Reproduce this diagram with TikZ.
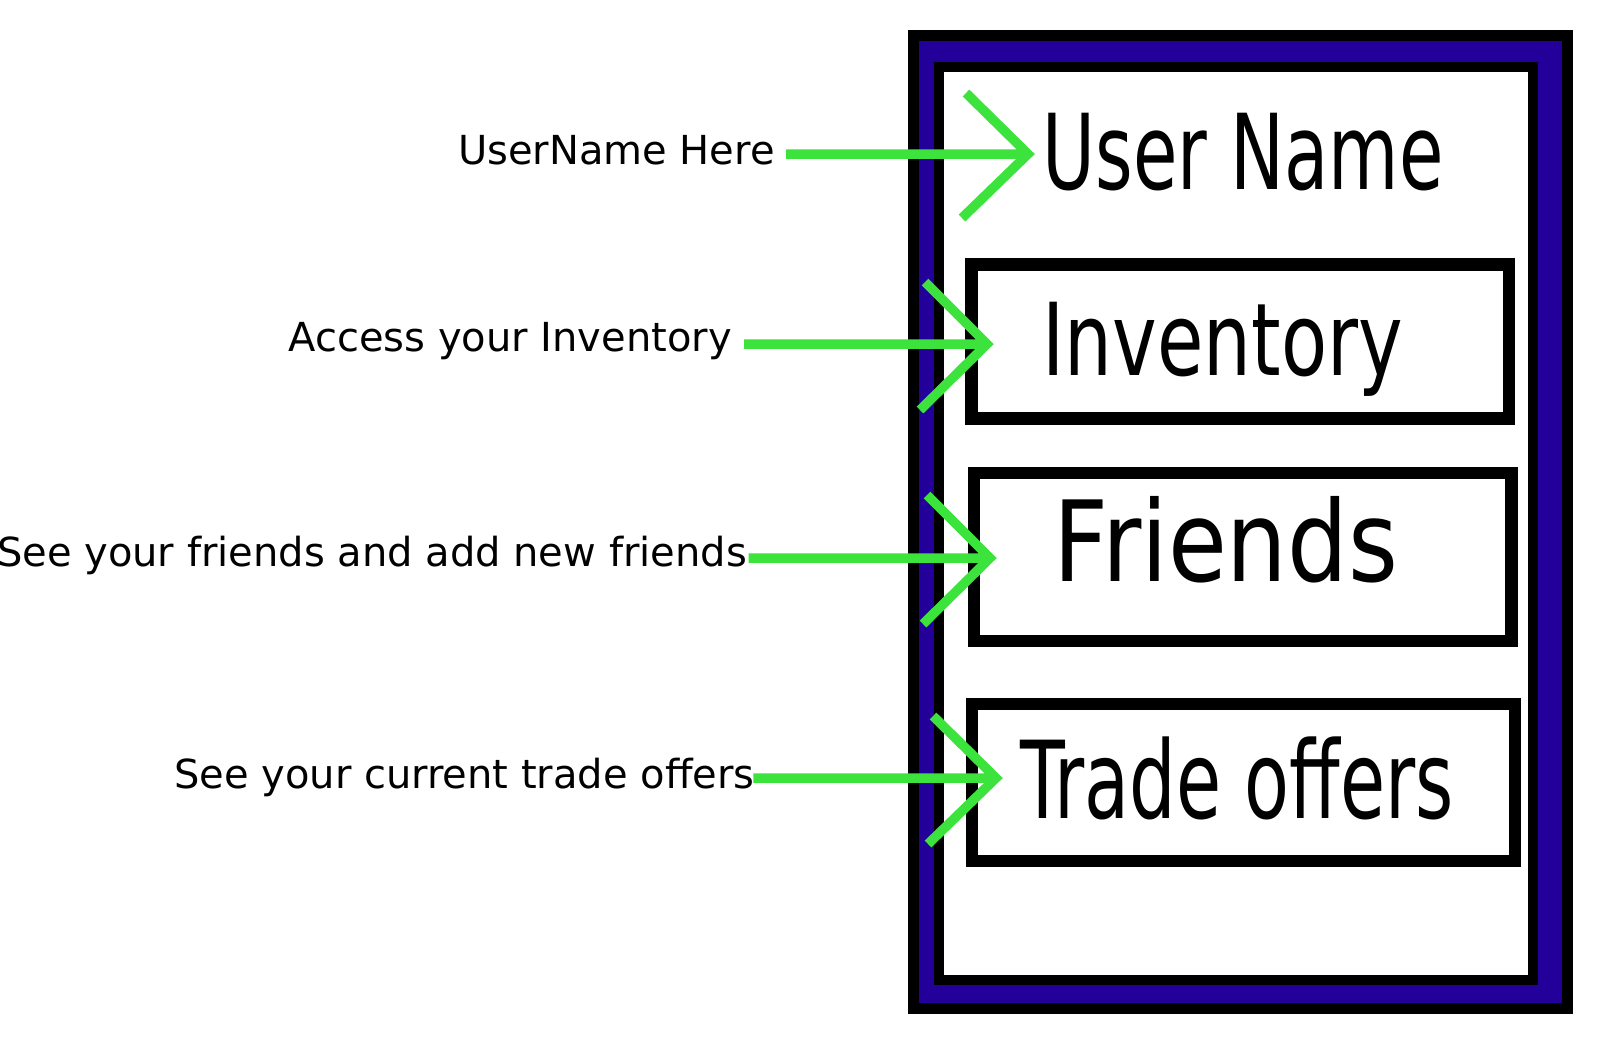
\documentclass[tikz,border=0pt]{standalone}
\usepackage{fontspec}
\setmainfont{DejaVu Sans}
\usepackage{graphicx}
\definecolor{framefill}{RGB}{34,0,153}
\definecolor{arrowgreen}{RGB}{61,227,61}
\tikzset{
  boxnode/.style={draw=black, inner sep=0pt, outer sep=0pt},
  lbl/.style={anchor=base east, inner sep=0pt, font=\fontsize{40}{48}\selectfont},
  bigtext/.style={anchor=base west, inner sep=0pt},
  pointer/.style={draw=arrowgreen, line width=9.5pt, line join=miter},
}
\begin{document}
\begin{tikzpicture}[x=1pt,y=-1pt]
\fill[white] (0,0) rectangle (1616,1053);
\useasboundingbox (0,0) rectangle (1616,1053);

% frames
\node[boxnode, line width=11pt, fill=framefill, minimum width=654.3pt, minimum height=973.3pt] (outer) at (1240.65,522.15) {};
\node[boxnode, line width=10pt, fill=white, minimum width=593.4pt, minimum height=912.7pt] (inner) at (1236,523.65) {};

% boxes
\node[boxnode, line width=12.5pt, fill=white, minimum width=537.5pt, minimum height=153.8pt] (invbox) at (1240.05,341.4) {};
\node[boxnode, line width=12.5pt, fill=white, minimum width=537.7pt, minimum height=168.2pt] (frbox) at (1242.65,557.1) {};
\node[boxnode, line width=12pt, fill=white, minimum width=542.8pt, minimum height=157pt] (trbox) at (1243.1,782.5) {};

% big texts
\node[bigtext] (tun) at (1042.6,189) {\fontsize{104.7}{120}\selectfont\scalebox{0.69}[1]{User Name}};
\node[bigtext] (tinv) at (1042.3,375) {\fontsize{100.6}{120}\selectfont\scalebox{0.75}[1]{Inventory}};
\node[bigtext] (tfr) at (1053.7,581.7) {\fontsize{112}{130}\selectfont\scalebox{0.855}[1]{Friends}};
\node[bigtext] (ttr) at (1020,818.3) {\fontsize{107.5}{125}\selectfont\scalebox{0.683}[1]{Trade offers}};

% labels
\node[lbl] (l1) at (775,164) {UserName Here};
\node[lbl] (l2) at (732,351.5) {Access your Inventory};
\node[lbl] (l3) at (747,566.7) {See your friends and add new friends};
\node[lbl] (l4) at (754.7,788) {See your current trade offers};

% arrow tips
\coordinate (t1) at (1028,154);
\coordinate (t2) at (987,344);
\coordinate (t3) at (990,558);
\coordinate (t4) at (996,778);

\draw[pointer] ([xshift=11pt]l1.east |- t1) -- (t1) ++(-62,-61) -- (t1) -- ++(-66,64);
\draw[pointer] ([xshift=12pt]l2.east |- t2) -- (t2) ++(-62,-62) -- (t2) -- ++(-67,66);
\draw[pointer] ([xshift=1.5pt]l3.east |- t3) -- (t3) ++(-63,-63) -- (t3) -- ++(-67,66);
\draw[pointer] ([xshift=-1.4pt]l4.east |- t4) -- (t4) ++(-63,-62) -- (t4) -- ++(-68,66);
\end{tikzpicture}
\end{document}
